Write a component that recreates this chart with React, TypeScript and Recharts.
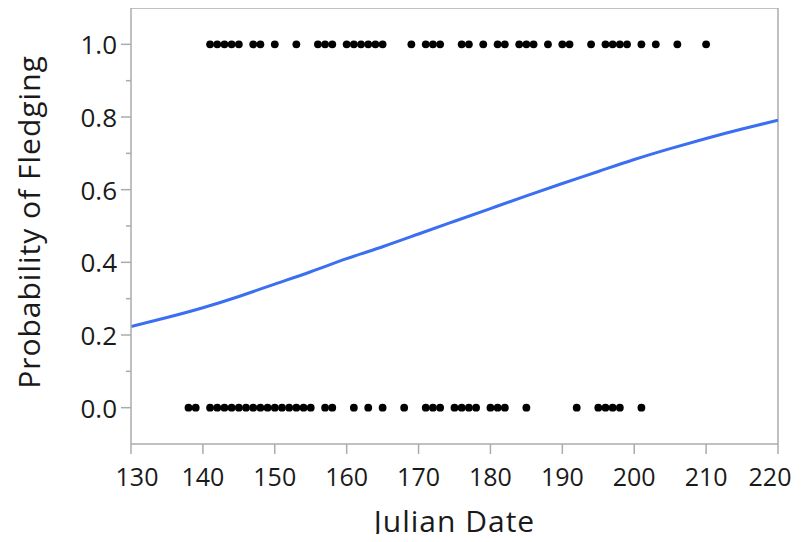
import { ComposedChart, Scatter, Line, XAxis, YAxis, ReferenceLine, Label } from 'recharts';

// Julian dates of nests that fledged (1.0) and failed (0.0)
const fledgedDates = [
  141, 142, 143, 144, 145, 147, 148, 150, 153, 156, 157, 158, 160, 161, 162, 163, 164, 165,
  169, 171, 172, 173, 176, 177, 179, 181, 182, 184, 185, 186, 188, 190, 191, 194, 196, 197,
  198, 199, 201, 203, 206, 210,
];
const failedDates = [
  138, 139, 141, 142, 143, 144, 145, 146, 147, 148, 149, 150, 151, 152, 153, 154, 155, 157,
  158, 161, 163, 165, 168, 171, 172, 173, 175, 176, 177, 178, 180, 181, 182, 185, 192, 195,
  196, 197, 198, 201,
];

// fitted logistic curve
const curveDates = [130, 135, 140, 145, 150, 155, 160, 165, 170, 175, 180, 185, 190, 195, 200, 205, 210, 215, 220];
const curveProb = [0.223, 0.248, 0.275, 0.306, 0.34, 0.374, 0.41, 0.443, 0.478, 0.513, 0.548, 0.583, 0.617, 0.65, 0.683, 0.713, 0.741, 0.767, 0.791];

const xTicks = [130, 140, 150, 160, 170, 180, 190, 200, 210, 220];
const yTicks = [-0.1, 0, 0.1, 0.2, 0.3, 0.4, 0.5, 0.6, 0.7, 0.8, 0.9, 1.0, 1.1];

const AXIS = '#ababab';
const TEXT = '#1a1a1a';
const FONT = '"Open Sans", "Noto Sans", sans-serif';

const points = [
  ...fledgedDates.map((d) => ({ x: d, y: 1 })),
  ...failedDates.map((d) => ({ x: d, y: 0 })),
];
const curve = curveDates.map((d, i) => ({ x: d, p: curveProb[i] }));

function YTick(props: any) {
  const { x, y, payload } = props;
  const v = Math.round(payload.value * 10);
  if (v === -1 || v === 11) return <g />;
  const major = v % 2 === 0;
  return (
    <g>
      <line x1={x - (major ? 10 : 5)} x2={x} y1={y} y2={y} stroke={AXIS} strokeWidth={1.5} />
      {major && (
        <text x={x - 14} y={y} textAnchor="end" dominantBaseline="central" fill={TEXT} fontSize={26} fontFamily={FONT}>
          {(v / 10).toFixed(1)}
        </text>
      )}
    </g>
  );
}

// first and last labels are nudged inside, like the original
function XTick(props: any) {
  const { x, y, payload } = props;
  const v = payload.value;
  const dx = v === xTicks[0] ? 6 : v === xTicks[xTicks.length - 1] ? -8 : 0;
  return (
    <text x={x + dx} y={y} dy="0.71em" textAnchor="middle" fill={TEXT} fontSize={25} fontFamily={FONT}>
      {v}
    </text>
  );
}

const Dot = (props: any) => <circle cx={props.cx} cy={props.cy} r={3.9} fill="#000" />;

const XTitle = (props: any) => {
  const vb = props.viewBox;
  return (
    <text x={vb.x + vb.width / 2} y={vb.y + 88} textAnchor="middle" fill={TEXT} fontSize={30} letterSpacing={1} fontFamily={FONT}>
      Julian Date
    </text>
  );
};

const YTitle = (props: any) => {
  const vb = props.viewBox;
  const cx = 28;
  const cy = vb.y + vb.height / 2 - 4;
  return (
    <text
      x={cx}
      y={cy}
      transform={`rotate(-90, ${cx}, ${cy})`}
      textAnchor="middle"
      dominantBaseline="central"
      fill={TEXT}
      fontSize={30}
      letterSpacing={1}
      fontFamily={FONT}
    >
      Probability of Fledging
    </text>
  );
};

export default function App() {
  return (
    <div style={{ margin: -8, width: 804, height: 542, background: '#fff' }}>
      <ComposedChart width={804} height={542} margin={{ top: 8, right: 26, left: 0, bottom: 0 }}>
        <XAxis
          type="number"
          dataKey="x"
          domain={[130, 220]}
          ticks={xTicks}
          interval={0}
          allowDataOverflow
          height={98}
          stroke={AXIS}
          strokeWidth={1.5}
          tickSize={10}
          tickMargin={14}
          tick={<XTick />}
        >
          <Label content={<XTitle />} />
        </XAxis>
        <YAxis
          type="number"
          domain={[-0.1, 1.1]}
          ticks={yTicks}
          interval={0}
          allowDataOverflow
          width={131}
          stroke={AXIS}
          strokeWidth={1.5}
          tickLine={false}
          tickSize={0}
          tickMargin={0}
          tick={<YTick />}
        >
          <Label content={<YTitle />} />
        </YAxis>
        <ReferenceLine x={220} stroke={AXIS} strokeWidth={1.5} />
        <ReferenceLine y={1.1} stroke={AXIS} strokeWidth={1.5} />
        <Line
          data={curve}
          dataKey="p"
          type="natural"
          stroke="#3a6ff2"
          strokeWidth={3}
          dot={false}
          isAnimationActive={false}
        />
        <Scatter data={points} dataKey="y" shape={<Dot />} isAnimationActive={false} />
      </ComposedChart>
    </div>
  );
}
